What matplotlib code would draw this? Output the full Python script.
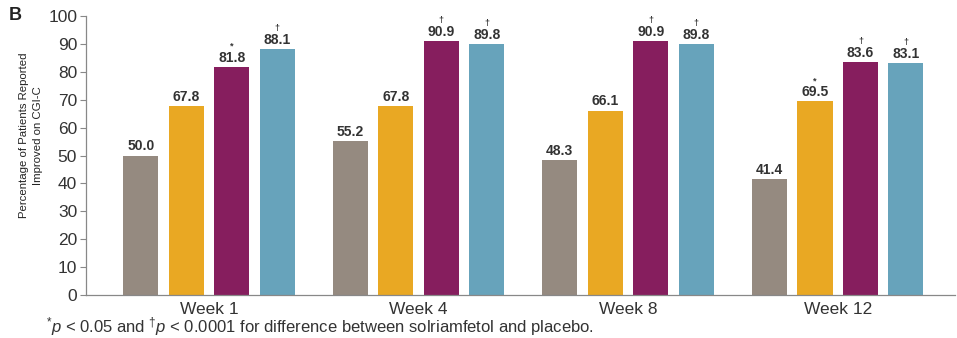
import matplotlib
matplotlib.use("Agg")
import matplotlib.pyplot as plt
import numpy as np

weeks = ["Week 1", "Week 4", "Week 8", "Week 12"]
placebo = [50.0, 55.2, 48.3, 41.4]
dose_a = [67.8, 67.8, 66.1, 69.5]
dose_b = [81.8, 90.9, 90.9, 83.6]
dose_c = [88.1, 89.8, 89.8, 83.1]
marks_placebo = ["", "", "", ""]
marks_a = ["", "", "", "*"]
marks_b = ["*", "\u2020", "\u2020", "\u2020"]
marks_c = ["\u2020", "\u2020", "\u2020", "\u2020"]
yticks = [0, 10, 20, 30, 40, 50, 60, 70, 80, 90, 100]

series = [placebo, dose_a, dose_b, dose_c]
marks = [marks_placebo, marks_a, marks_b, marks_c]
colors = ["#958a80", "#e9a823", "#861e5e", "#67a3bb"]

plt.rcParams['font.family'] = ['Liberation Sans', 'DejaVu Sans']
plt.rcParams['mathtext.fontset'] = 'custom'
plt.rcParams['mathtext.rm'] = 'Liberation Sans'
plt.rcParams['mathtext.it'] = 'Liberation Sans:italic'

fig = plt.figure(figsize=(9.57, 3.38), dpi=100)
ax = fig.add_axes([85.5 / 957, 43 / 338, (955 - 85.5) / 957, (295 - 16) / 338])

x = np.arange(len(weeks))
pitch = 0.217
width = 0.168
offsets = [-1.5 * pitch, -0.5 * pitch, 0.5 * pitch, 1.5 * pitch]
txt = "#333333"
for vals, mk, col, off in zip(series, marks, colors, offsets):
    bars = ax.bar(x + off, vals, width=width, color=col, zorder=2)
    for b, v, m in zip(bars, vals, mk):
        cx = b.get_x() + b.get_width() / 2
        ax.annotate(f"{v:.1f}", (cx, v), xytext=(0, 1.5), textcoords="offset points",
                    ha="center", va="bottom", fontsize=10, fontweight="bold", color=txt)
        if m:
            ax.annotate(m, (cx, v), xytext=(0, 11.5), textcoords="offset points",
                        ha="center", va="bottom", fontsize=6.5, fontweight="bold", color=txt)

ax.set_xlim(-0.589, 3.56)
ax.set_ylim(0, 100)
ax.set_yticks(yticks)
ax.set_xticks(x)
ax.set_xticklabels(weeks, fontsize=12.5, color=txt)
ax.tick_params(axis="x", length=0, pad=5)
ax.tick_params(axis="y", length=4, width=0.8, color="#888888", labelsize=12.5,
               labelcolor=txt, pad=2)
for s in ["top", "right"]:
    ax.spines[s].set_visible(False)
for s in ["left", "bottom"]:
    ax.spines[s].set_color("#888888")
    ax.spines[s].set_linewidth(0.9)

ax.set_ylabel("Percentage of Patients Reported\nImproved on CGI-C", fontsize=8.2,
              color="#222222", linespacing=1.5)
ax.yaxis.set_label_coords(-0.049, 0.573)

fig.text(9 / 957, 1 - 15 / 338, "B", fontsize=13, fontweight="bold", color="#222222",
         ha="left", va="center")
fig.text(46 / 957, 1 - 327 / 338,
         r"$^{*}\it{p}$ < 0.05 and $^{\dagger}\it{p}$ < 0.0001 for difference between solriamfetol and placebo.",
         fontsize=12, color=txt, ha="left", va="center")

fig.savefig("out.png", dpi=100)
